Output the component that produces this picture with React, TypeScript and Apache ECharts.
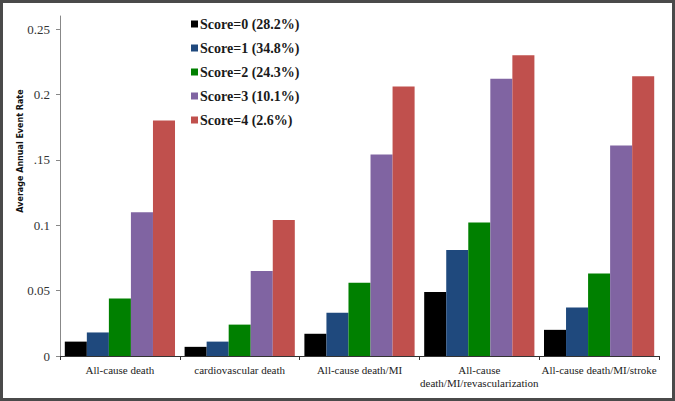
import React, { useEffect, useRef } from "react";
import * as echarts from "echarts";

const categories = [
  "All-cause death",
  "cardiovascular death",
  "All-cause death/MI",
  "All-cause\ndeath/MI/revascularization",
  "All-cause death/MI/stroke",
];
const seriesNames = [
  "Score=0 (28.2%)",
  "Score=1 (34.8%)",
  "Score=2 (24.3%)",
  "Score=3 (10.1%)",
  "Score=4 (2.6%)",
];
const score0 = [0.011, 0.007, 0.017, 0.049, 0.02];
const score1 = [0.018, 0.011, 0.033, 0.081, 0.037];
const score2 = [0.044, 0.024, 0.056, 0.102, 0.063];
const score3 = [0.11, 0.065, 0.154, 0.212, 0.161];
const score4 = [0.18, 0.104, 0.206, 0.23, 0.214];
const seriesValues = [score0, score1, score2, score3, score4];
const colors = ["#000000", "#1f497d", "#008000", "#8064a2", "#c0504d"];
const yTickValues = [0, 0.05, 0.1, 0.15, 0.2, 0.25];
const yTickLabels = ["0", "0.05", "0.1", ".15", "0.2", "0.25"];
const yAxisTitle = "Average Annual Event Rate";

export default function App() {
  const ref = useRef<HTMLDivElement>(null);
  useEffect(() => {
    if (!ref.current) return;
    const chart = echarts.init(ref.current, null, { renderer: "svg" });
    const serif = "'Liberation Serif', 'DejaVu Serif', serif";
    chart.setOption({
      animation: false,
      backgroundColor: "#ffffff",
      grid: { left: 60, right: 16, top: 16, bottom: 45, containLabel: false },
      legend: {
        orient: "vertical",
        left: 191,
        top: 17,
        padding: 0,
        itemWidth: 7,
        itemHeight: 7,
        itemGap: 10,
        icon: "rect",
        data: seriesNames,
        textStyle: {
          fontFamily: serif,
          fontWeight: "bold",
          fontSize: 14,
          lineHeight: 14,
          color: "#1a1a1a",
          padding: [0, 0, 0, -3],
        },
      },
      xAxis: {
        type: "category",
        data: categories,
        axisLine: { lineStyle: { color: "#333", width: 1 } },
        axisTick: { show: true, length: 4, lineStyle: { color: "#333" } },
        axisLabel: {
          fontFamily: serif,
          fontSize: 11,
          color: "#222",
          margin: 7,
          lineHeight: 13,
          interval: 0,
        },
      },
      yAxis: {
        type: "value",
        min: 0,
        max: 0.26,
        interval: 0.05,
        splitLine: { show: false },
        axisLine: { show: true, lineStyle: { color: "#888", width: 1 } },
        axisTick: {
          show: true,
          length: 4,
          lineStyle: { color: "#888" },
          customValues: yTickValues,
        },
        axisLabel: {
          fontFamily: serif,
          fontSize: 13,
          color: "#333",
          margin: 10,
          customValues: yTickValues,
          formatter: (v: number) => {
            const i = yTickValues.findIndex((t) => Math.abs(t - v) < 1e-9);
            return i >= 0 ? yTickLabels[i] : "";
          },
        },
      },
      series: seriesNames.map((name, i) => ({
        name,
        type: "bar",
        data: seriesValues[i],
        itemStyle: { color: colors[i] },
        barGap: "0%",
        barCategoryGap: "8%",
      })),
      graphic: [
        {
          type: "text",
          x: 20,
          y: 151,
          rotation: Math.PI / 2,
          style: {
            text: yAxisTitle,
            fontFamily: "'DejaVu Sans', sans-serif",
            fontWeight: "bold",
            fontSize: 8,
            fill: "#111",
            align: "center",
            verticalAlign: "middle",
          },
        },
        {
          type: "rect",
          shape: { x: 1.5, y: 1.5, width: 672, height: 398 },
          style: { fill: "none", stroke: "#4a4a4a", lineWidth: 3 },
          silent: true,
        },
      ],
    });
    return () => chart.dispose();
  }, []);
  return (
    <div
      ref={ref}
      style={{ position: "fixed", left: 0, top: 0, width: 675, height: 401 }}
    />
  );
}
